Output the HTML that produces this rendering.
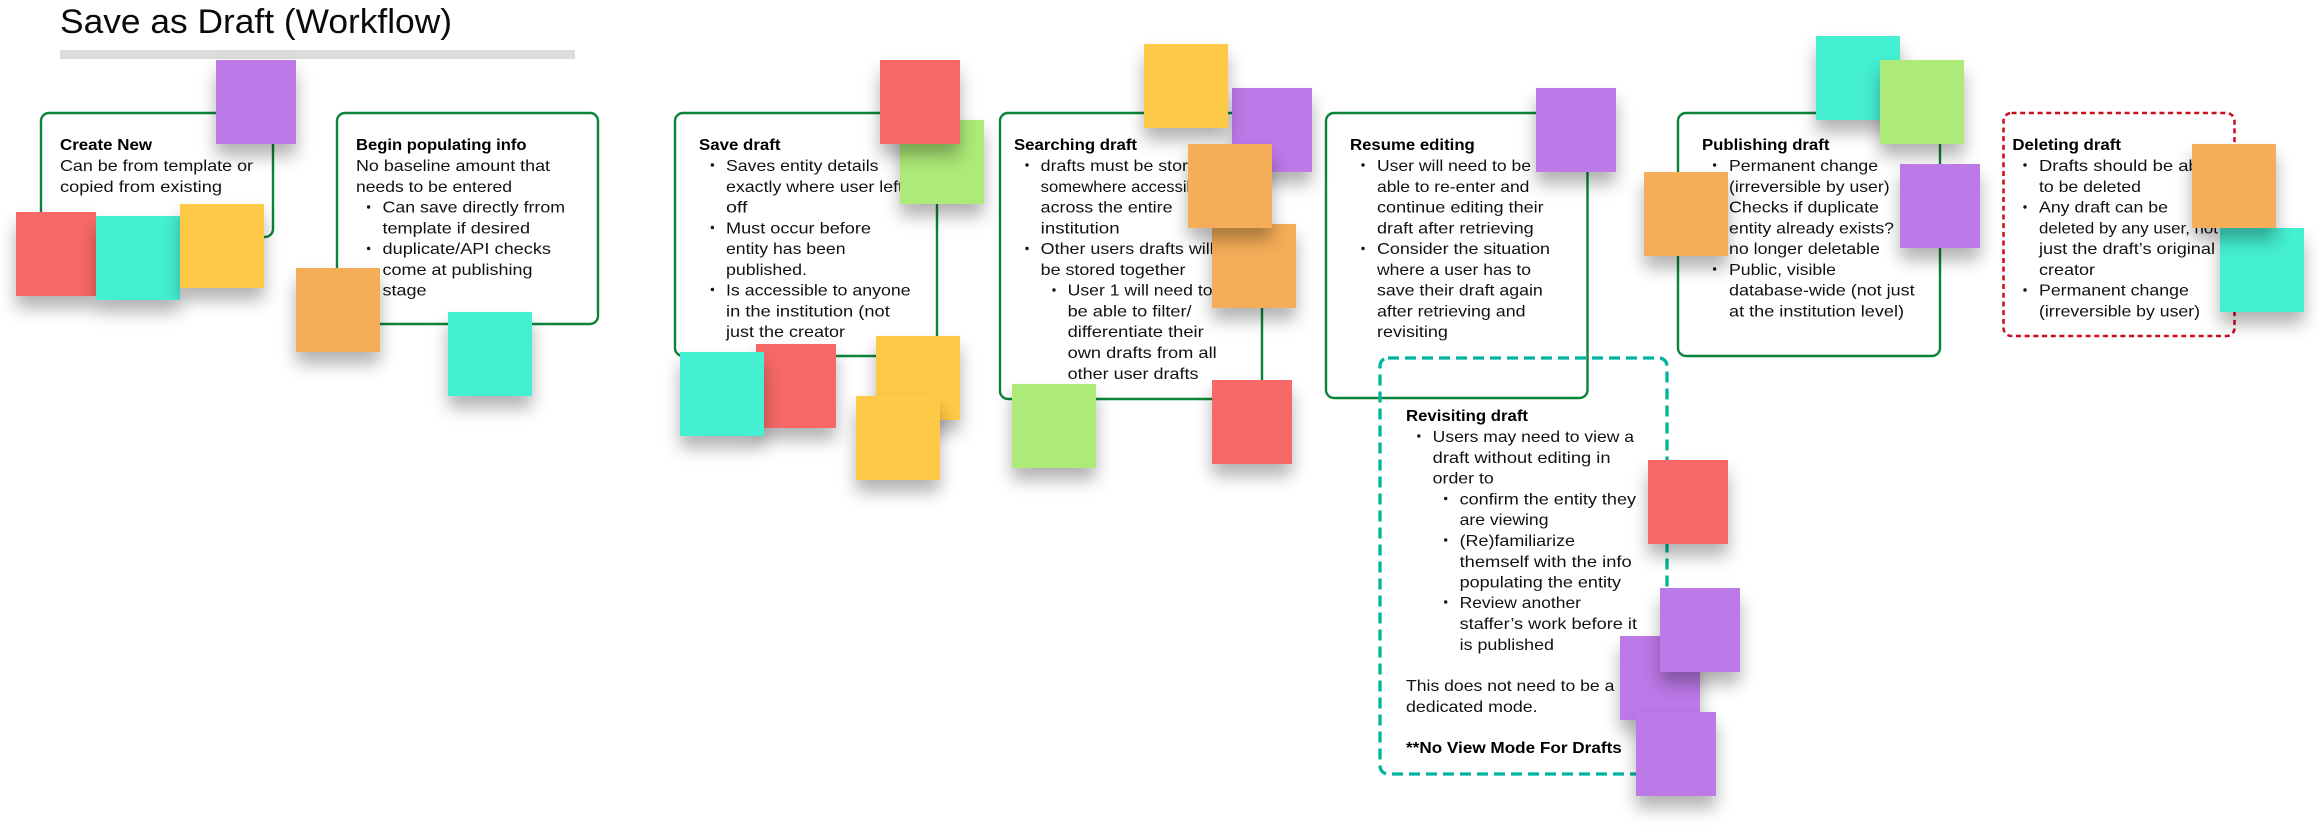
<!DOCTYPE html>
<html><head><meta charset="utf-8"><style>
html,body{margin:0;padding:0;background:#fff;width:2320px;height:828px;overflow:hidden}
svg{position:absolute;left:0;top:0}
text{font-family:"Liberation Sans",sans-serif;font-size:16px;fill:#111}
text.b{font-weight:700;fill:#000}
.s{position:absolute;height:84px;box-shadow:0 12px 16px rgba(0,0,0,.3)}
.p{background:#bc79e8}.r{background:#f76868}.t{background:#44efd2}.y{background:#fec947}.o{background:#f5ad58}.g{background:#aceb77}
</style></head><body>
<svg width="2320" height="828" viewBox="0 0 2320 828">
<text x="60" y="33" style="font-size:34.5px;fill:#0a0a0a" textLength="392" lengthAdjust="spacingAndGlyphs">Save as Draft (Workflow)</text>
<rect x="60" y="50" width="515" height="9" fill="#dcdcdc"/>
<g fill="#fff" stroke="#0a8439" stroke-width="2.4">
<rect x="41" y="113" width="232" height="124" rx="8"/>
<rect x="337" y="113" width="261" height="211" rx="8"/>
<rect x="675" y="113" width="262" height="243" rx="8"/>
<rect x="1000" y="113" width="262" height="286" rx="8"/>
<rect x="1326" y="113" width="261.5" height="285" rx="8"/>
<rect x="1678" y="113" width="262" height="243" rx="8"/>
</g>
<rect x="2003.5" y="113" width="231" height="223" rx="8" fill="none" stroke="#cc0a1e" stroke-width="2.5" stroke-dasharray="5 3.7"/>
<rect x="1380" y="358" width="287" height="416" rx="8" fill="none" stroke="#00b59c" stroke-width="3.3" stroke-dasharray="11 6"/>

<!-- Create New -->
<text class="b" x="60" y="150" textLength="92" lengthAdjust="spacingAndGlyphs">Create New</text>
<text x="60" y="171" textLength="193" lengthAdjust="spacingAndGlyphs">Can be from template or</text>
<text x="60" y="192" textLength="162" lengthAdjust="spacingAndGlyphs">copied from existing</text>

<!-- Begin populating -->
<text class="b" x="356" y="150" textLength="170.5" lengthAdjust="spacingAndGlyphs">Begin populating info</text>
<text x="356" y="171" textLength="194" lengthAdjust="spacingAndGlyphs">No baseline amount that</text>
<text x="356" y="192" textLength="156" lengthAdjust="spacingAndGlyphs">needs to be entered</text>
<text x="382.5" y="212.6" textLength="182.5" lengthAdjust="spacingAndGlyphs">Can save directly frrom</text>
<text x="382.5" y="233.4" textLength="147.5" lengthAdjust="spacingAndGlyphs">template if desired</text>
<text x="382.5" y="254" textLength="168.5" lengthAdjust="spacingAndGlyphs">duplicate/API checks</text>
<text x="382.5" y="275" textLength="150" lengthAdjust="spacingAndGlyphs">come at publishing</text>
<text x="382.5" y="295.6" textLength="44" lengthAdjust="spacingAndGlyphs">stage</text>

<!-- Save draft -->
<text class="b" x="699" y="150" textLength="81.5" lengthAdjust="spacingAndGlyphs">Save draft</text>
<text x="726" y="171" textLength="152.5" lengthAdjust="spacingAndGlyphs">Saves entity details</text>
<text x="726" y="192" textLength="177" lengthAdjust="spacingAndGlyphs">exactly where user left</text>
<text x="726" y="212.6" textLength="21.5" lengthAdjust="spacingAndGlyphs">off</text>
<text x="726" y="233.4" textLength="145" lengthAdjust="spacingAndGlyphs">Must occur before</text>
<text x="726" y="254" textLength="119.5" lengthAdjust="spacingAndGlyphs">entity has been</text>
<text x="726" y="275" textLength="81" lengthAdjust="spacingAndGlyphs">published.</text>
<text x="726" y="295.6" textLength="184.6" lengthAdjust="spacingAndGlyphs">Is accessible to anyone</text>
<text x="726" y="316.6" textLength="163.8" lengthAdjust="spacingAndGlyphs">in the institution (not</text>
<text x="726" y="337" textLength="119" lengthAdjust="spacingAndGlyphs">just the creator</text>

<!-- Searching -->
<text class="b" x="1014" y="150" textLength="123" lengthAdjust="spacingAndGlyphs">Searching draft</text>
<text x="1040.7" y="171" textLength="167" lengthAdjust="spacingAndGlyphs">drafts must be stored</text>
<text x="1040.7" y="192" textLength="168" lengthAdjust="spacingAndGlyphs">somewhere accessible</text>
<text x="1040.7" y="212.6" textLength="131.8" lengthAdjust="spacingAndGlyphs">across the entire</text>
<text x="1040.7" y="233.4" textLength="78.9" lengthAdjust="spacingAndGlyphs">institution</text>
<text x="1040.7" y="254" textLength="173" lengthAdjust="spacingAndGlyphs">Other users drafts will</text>
<text x="1040.7" y="275" textLength="144.8" lengthAdjust="spacingAndGlyphs">be stored together</text>
<text x="1067.6" y="295.6" textLength="145" lengthAdjust="spacingAndGlyphs">User 1 will need to</text>
<text x="1067.6" y="316.6" textLength="124" lengthAdjust="spacingAndGlyphs">be able to filter/</text>
<text x="1067.6" y="337" textLength="136.1" lengthAdjust="spacingAndGlyphs">differentiate their</text>
<text x="1067.6" y="358" textLength="149.1" lengthAdjust="spacingAndGlyphs">own drafts from all</text>
<text x="1067.6" y="379" textLength="130.9" lengthAdjust="spacingAndGlyphs">other user drafts</text>

<!-- Resume -->
<text class="b" x="1350" y="150" textLength="124.8" lengthAdjust="spacingAndGlyphs">Resume editing</text>
<text x="1377" y="171" textLength="154" lengthAdjust="spacingAndGlyphs">User will need to be</text>
<text x="1377" y="192" textLength="152.4" lengthAdjust="spacingAndGlyphs">able to re-enter and</text>
<text x="1377" y="212.6" textLength="166.7" lengthAdjust="spacingAndGlyphs">continue editing their</text>
<text x="1377" y="233.4" textLength="156.7" lengthAdjust="spacingAndGlyphs">draft after retrieving</text>
<text x="1377" y="254" textLength="173" lengthAdjust="spacingAndGlyphs">Consider the situation</text>
<text x="1377" y="275" textLength="154" lengthAdjust="spacingAndGlyphs">where a user has to</text>
<text x="1377" y="295.6" textLength="165.8" lengthAdjust="spacingAndGlyphs">save their draft again</text>
<text x="1377" y="316.6" textLength="148.5" lengthAdjust="spacingAndGlyphs">after retrieving and</text>
<text x="1377" y="337" textLength="70.9" lengthAdjust="spacingAndGlyphs">revisiting</text>

<!-- Revisiting -->
<text class="b" x="1406" y="421" textLength="122" lengthAdjust="spacingAndGlyphs">Revisiting draft</text>
<text x="1432.7" y="442" textLength="201.3" lengthAdjust="spacingAndGlyphs">Users may need to view a</text>
<text x="1432.7" y="463" textLength="177.8" lengthAdjust="spacingAndGlyphs">draft without editing in</text>
<text x="1432.7" y="483.5" textLength="61.1" lengthAdjust="spacingAndGlyphs">order to</text>
<text x="1459.6" y="504.5" textLength="176.4" lengthAdjust="spacingAndGlyphs">confirm the entity they</text>
<text x="1459.6" y="525" textLength="88.9" lengthAdjust="spacingAndGlyphs">are viewing</text>
<text x="1459.6" y="546" textLength="115.4" lengthAdjust="spacingAndGlyphs">(Re)familiarize</text>
<text x="1459.6" y="567" textLength="172.1" lengthAdjust="spacingAndGlyphs">themself with the info</text>
<text x="1459.6" y="587.5" textLength="161.4" lengthAdjust="spacingAndGlyphs">populating the entity</text>
<text x="1459.6" y="608" textLength="121.4" lengthAdjust="spacingAndGlyphs">Review another</text>
<text x="1459.6" y="629" textLength="177.4" lengthAdjust="spacingAndGlyphs">staffer’s work before it</text>
<text x="1459.6" y="650" textLength="94.4" lengthAdjust="spacingAndGlyphs">is published</text>
<text x="1406" y="691" textLength="208.4" lengthAdjust="spacingAndGlyphs">This does not need to be a</text>
<text x="1406" y="712" textLength="131.6" lengthAdjust="spacingAndGlyphs">dedicated mode.</text>
<text class="b" x="1406" y="753" textLength="215.8" lengthAdjust="spacingAndGlyphs">**No View Mode For Drafts</text>

<!-- Publishing -->
<text class="b" x="1702" y="150" textLength="127.4" lengthAdjust="spacingAndGlyphs">Publishing draft</text>
<text x="1729" y="171" textLength="149" lengthAdjust="spacingAndGlyphs">Permanent change</text>
<text x="1729" y="192" textLength="160.6" lengthAdjust="spacingAndGlyphs">(irreversible by user)</text>
<text x="1729" y="212.6" textLength="150" lengthAdjust="spacingAndGlyphs">Checks if duplicate</text>
<text x="1729" y="233.4" textLength="165" lengthAdjust="spacingAndGlyphs">entity already exists?</text>
<text x="1729" y="254" textLength="150.8" lengthAdjust="spacingAndGlyphs">no longer deletable</text>
<text x="1729" y="275" textLength="107" lengthAdjust="spacingAndGlyphs">Public, visible</text>
<text x="1729" y="295.6" textLength="185.6" lengthAdjust="spacingAndGlyphs">database-wide (not just</text>
<text x="1729" y="316.6" textLength="175" lengthAdjust="spacingAndGlyphs">at the institution level)</text>

<!-- Deleting -->
<text class="b" x="2012.4" y="150" textLength="108.6" lengthAdjust="spacingAndGlyphs">Deleting draft</text>
<text x="2039" y="171" textLength="174" lengthAdjust="spacingAndGlyphs">Drafts should be able</text>
<text x="2039" y="192" textLength="102" lengthAdjust="spacingAndGlyphs">to be deleted</text>
<text x="2039" y="212.6" textLength="129" lengthAdjust="spacingAndGlyphs">Any draft can be</text>
<text x="2039" y="233.4" textLength="179" lengthAdjust="spacingAndGlyphs">deleted by any user, not</text>
<text x="2039" y="254" textLength="176" lengthAdjust="spacingAndGlyphs">just the draft’s original</text>
<text x="2039" y="275" textLength="56" lengthAdjust="spacingAndGlyphs">creator</text>
<text x="2039" y="295.6" textLength="149.8" lengthAdjust="spacingAndGlyphs">Permanent change</text>
<text x="2039" y="316.6" textLength="161" lengthAdjust="spacingAndGlyphs">(irreversible by user)</text>

<g fill="#151515">
<circle cx="368.6" cy="207" r="1.7"/><circle cx="368.6" cy="248.5" r="1.7"/>
<circle cx="712.4" cy="165" r="1.7"/><circle cx="712.4" cy="227.5" r="1.7"/><circle cx="712.4" cy="289.5" r="1.7"/>
<circle cx="1027" cy="165" r="1.7"/><circle cx="1027" cy="248.5" r="1.7"/><circle cx="1054" cy="290" r="1.7"/>
<circle cx="1363" cy="165" r="1.7"/><circle cx="1363" cy="248.5" r="1.7"/>
<circle cx="1418.8" cy="436" r="1.7"/><circle cx="1445.7" cy="498.5" r="1.7"/><circle cx="1445.7" cy="540" r="1.7"/><circle cx="1445.7" cy="602" r="1.7"/>
<circle cx="1714.6" cy="165" r="1.7"/><circle cx="1714.6" cy="269" r="1.7"/>
<circle cx="2025" cy="165" r="1.7"/><circle cx="2025" cy="207" r="1.7"/><circle cx="2025" cy="290" r="1.7"/>
</g>
</svg>

<div class="s r" style="left:16px;top:212px;width:80px"></div>
<div class="s t" style="left:96px;top:216px;width:84px"></div>
<div class="s y" style="left:180px;top:204px;width:84px"></div>
<div class="s p" style="left:216px;top:60px;width:80px"></div>
<div class="s o" style="left:296px;top:268px;width:84px"></div>
<div class="s t" style="left:448px;top:312px;width:84px"></div>

<div class="s g" style="left:900px;top:120px;width:84px"></div>
<div class="s r" style="left:880px;top:60px;width:80px"></div>
<div class="s r" style="left:756px;top:344px;width:80px"></div>
<div class="s t" style="left:680px;top:352px;width:84px"></div>
<div class="s y" style="left:876px;top:336px;width:84px"></div>
<div class="s y" style="left:856px;top:396px;width:84px"></div>

<div class="s p" style="left:1232px;top:88px;width:80px"></div>
<div class="s y" style="left:1144px;top:44px;width:84px"></div>
<div class="s o" style="left:1212px;top:224px;width:84px"></div>
<div class="s o" style="left:1188px;top:144px;width:84px"></div>
<div class="s g" style="left:1012px;top:384px;width:84px"></div>
<div class="s r" style="left:1212px;top:380px;width:80px"></div>

<div class="s p" style="left:1536px;top:88px;width:80px"></div>
<div class="s r" style="left:1648px;top:460px;width:80px"></div>
<div class="s p" style="left:1620px;top:636px;width:80px"></div>
<div class="s p" style="left:1660px;top:588px;width:80px"></div>
<div class="s p" style="left:1636px;top:712px;width:80px"></div>

<div class="s t" style="left:1816px;top:36px;width:84px"></div>
<div class="s g" style="left:1880px;top:60px;width:84px"></div>
<div class="s o" style="left:1644px;top:172px;width:84px"></div>
<div class="s p" style="left:1900px;top:164px;width:80px"></div>

<div class="s t" style="left:2220px;top:228px;width:84px"></div>
<div class="s o" style="left:2192px;top:144px;width:84px"></div>
</body></html>
